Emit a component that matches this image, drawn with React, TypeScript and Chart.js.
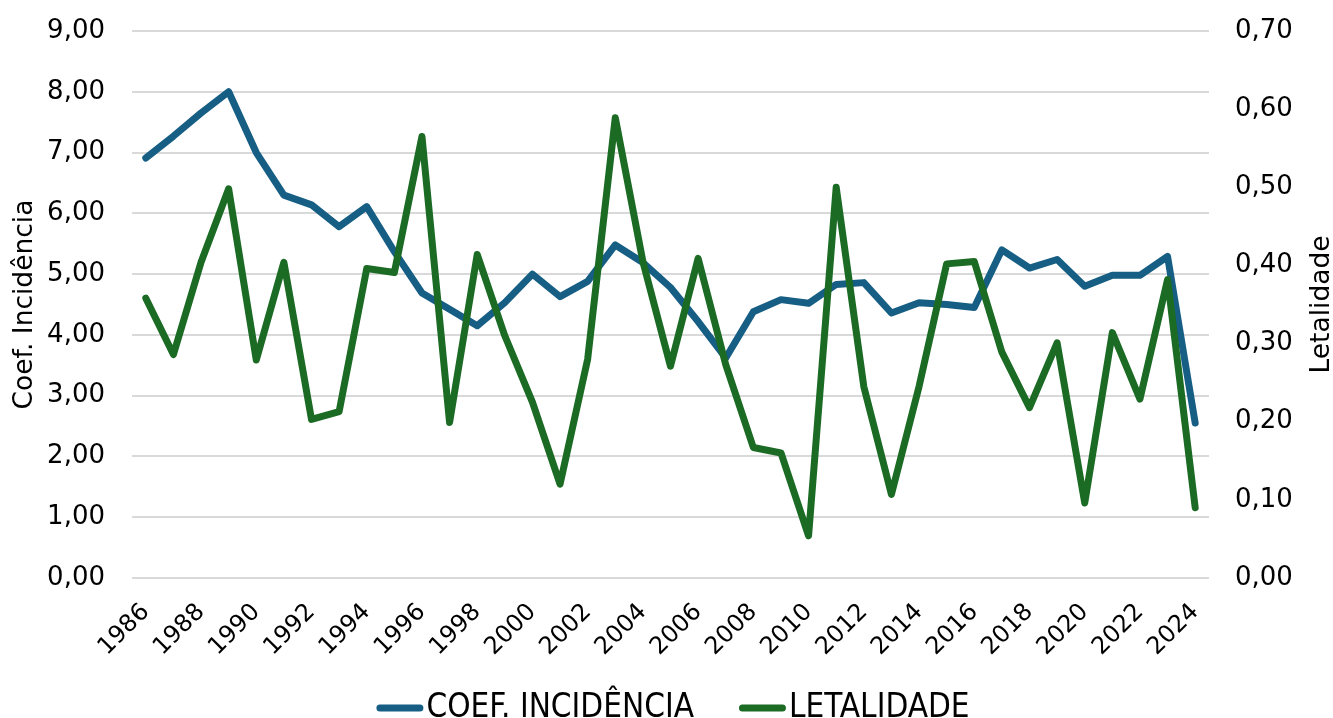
import React, { useEffect, useRef } from "react";
import { Chart, registerables } from "chart.js";

Chart.register(...registerables);

const years: string[] = [
  "1986", "1987", "1988", "1989", "1990", "1991", "1992", "1993", "1994", "1995",
  "1996", "1997", "1998", "1999", "2000", "2001", "2002", "2003", "2004", "2005",
  "2006", "2007", "2008", "2009", "2010", "2011", "2012", "2013", "2014", "2015",
  "2016", "2017", "2018", "2019", "2020", "2021", "2022", "2023", "2024",
];

const coefIncidencia: number[] = [
  6.91, 7.27, 7.65, 8.0, 7.0, 6.3, 6.14, 5.78, 6.11, 5.37,
  4.69, 4.42, 4.15, 4.53, 5.0, 4.63, 4.88, 5.48, 5.19, 4.78,
  4.22, 3.62, 4.38, 4.58, 4.52, 4.83, 4.86, 4.36, 4.53, 4.5,
  4.45, 5.4, 5.1, 5.24, 4.8, 4.98, 4.98, 5.29, 2.55,
];

const letalidade: number[] = [
  0.358, 0.286, 0.404, 0.498, 0.279, 0.404, 0.203, 0.213, 0.396, 0.391,
  0.565, 0.199, 0.414, 0.31, 0.225, 0.12, 0.28, 0.589, 0.405, 0.271,
  0.409, 0.273, 0.167, 0.16, 0.054, 0.5, 0.245, 0.107, 0.245, 0.402,
  0.405, 0.289, 0.218, 0.301, 0.096, 0.314, 0.229, 0.382, 0.09,
];

const seriesNames = ["COEF. INCIDÊNCIA", "LETALIDADE"];
const leftTitle = "Coef. Incidência";
const rightTitle = "Letalidade";

const BLUE = "#165E83";
const GREEN = "#1B6B24";
const TICK_FONT = "'DejaVu Sans', Verdana, sans-serif";
const LEGEND_FONT = "'DejaVu Sans Condensed', 'DejaVu Sans', sans-serif";

const fmt = (v: number) => Number(v).toFixed(2).replace(".", ",");

const customPlugin = {
  id: "customDecor",
  afterDraw(chart: any) {
    const ctx = chart.ctx as CanvasRenderingContext2D;
    const area = chart.chartArea;
    ctx.save();
    // right axis title (bottom to top)
    ctx.font = `26.5px ${TICK_FONT}`;
    ctx.fillStyle = "#000";
    ctx.textAlign = "center";
    ctx.textBaseline = "middle";
    ctx.translate(1322, (area.top + area.bottom) / 2);
    ctx.rotate(-Math.PI / 2);
    ctx.fillText(rightTitle, 0, 0);
    ctx.restore();

    // legend
    ctx.save();
    ctx.font = `33px ${LEGEND_FONT}`;
    const lineLen = 40;
    const cap = 3.5;
    const textGap = 3;
    const itemGap = 45;
    const ds = chart.data.datasets;
    const widths = ds.map((d: any) => ctx.measureText(d.label).width);
    let total = 0;
    widths.forEach((w: number, i: number) => {
      total += cap * 2 + lineLen + textGap + w + (i < widths.length - 1 ? itemGap : 0);
    });
    let x = 673 - total / 2;
    const y = 708;
    ds.forEach((d: any, i: number) => {
      ctx.strokeStyle = d.borderColor;
      ctx.lineWidth = 7;
      ctx.lineCap = "round";
      ctx.beginPath();
      ctx.moveTo(x + cap, y);
      ctx.lineTo(x + cap + lineLen, y);
      ctx.stroke();
      x += cap * 2 + lineLen + textGap;
      ctx.fillStyle = "#000";
      ctx.textAlign = "left";
      ctx.textBaseline = "middle";
      ctx.fillText(d.label, x, y);
      x += widths[i] + itemGap;
    });
    ctx.restore();
  },
};

export default function App() {
  const canvasRef = useRef<HTMLCanvasElement | null>(null);

  useEffect(() => {
    if (!canvasRef.current) return;
    const chart = new Chart(canvasRef.current, {
      type: "line",
      data: {
        labels: years,
        datasets: [
          {
            label: seriesNames[0],
            data: coefIncidencia,
            yAxisID: "y",
            borderColor: BLUE,
            backgroundColor: BLUE,
            borderWidth: 7,
            pointRadius: 0,
            borderJoinStyle: "round",
            borderCapStyle: "round",
            tension: 0,
            order: 1,
          },
          {
            label: seriesNames[1],
            data: letalidade,
            yAxisID: "y1",
            borderColor: GREEN,
            backgroundColor: GREEN,
            borderWidth: 7,
            pointRadius: 0,
            borderJoinStyle: "round",
            borderCapStyle: "round",
            tension: 0,
            order: 0,
          },
        ],
      },
      options: {
        animation: false,
        responsive: true,
        maintainAspectRatio: false,
        layout: { padding: { top: 31, bottom: 40, left: 0, right: 0 } },
        plugins: {
          legend: { display: false },
          tooltip: { enabled: false },
        },
        scales: {
          x: {
            offset: true,
            grid: { display: false, drawTicks: false },
            border: { display: false },
            ticks: {
              autoSkip: false,
              minRotation: 45,
              maxRotation: 45,
              padding: 20,
              color: "#000",
              font: { family: TICK_FONT, size: 24 },
              callback: (_v: any, i: number) => (i % 2 === 0 ? years[i] : ""),
            },
            afterFit: (scale: any) => {
              scale.height = 100;
            },
          },
          y: {
            position: "left",
            min: 0,
            max: 9,
            grid: { color: "#D9D9D9", lineWidth: 2, drawTicks: false },
            border: { display: false },
            ticks: {
              stepSize: 1,
              padding: 27,
              color: "#000",
              font: { family: TICK_FONT, size: 26 },
              callback: (v: any) => fmt(v),
            },
            title: {
              display: true,
              text: leftTitle,
              color: "#000",
              font: { family: TICK_FONT, size: 26.5, lineHeight: 1 },
              padding: { top: 12, bottom: 0 },
            },
            afterFit: (scale: any) => {
              scale.width = 132;
              scale.paddingTop = 0;
              scale.paddingBottom = 0;
            },
          },
          y1: {
            position: "right",
            min: 0,
            max: 0.7,
            grid: { display: false, drawTicks: false },
            border: { display: false },
            ticks: {
              stepSize: 0.1,
              padding: 26,
              color: "#000",
              font: { family: TICK_FONT, size: 26 },
              callback: (v: any) => fmt(v),
            },
            afterFit: (scale: any) => {
              scale.width = 124;
              scale.paddingTop = 0;
              scale.paddingBottom = 0;
            },
          },
        },
      },
      plugins: [customPlugin],
    } as any);
    return () => chart.destroy();
  }, []);

  return (
    <div style={{ position: "absolute", left: 0, top: 0, width: 1333, height: 718, background: "#fff" }}>
      <canvas ref={canvasRef} />
    </div>
  );
}
